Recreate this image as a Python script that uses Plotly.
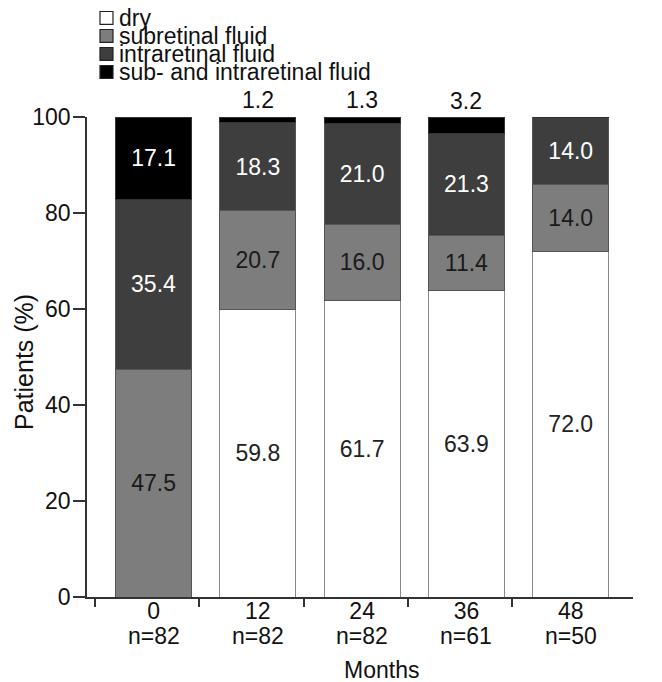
import plotly.graph_objects as go

months = ["0", "12", "24", "36", "48"]
n_patients = [82, 82, 82, 61, 50]
dry = [0.0, 59.8, 61.7, 63.9, 72.0]
subretinal = [47.5, 20.7, 16.0, 11.4, 14.0]
intraretinal = [35.4, 18.3, 21.0, 21.3, 14.0]
both = [17.1, 1.2, 1.3, 3.2, 0.0]

series = [
    ("dry", dry, "#ffffff", "#222222", "#8a8a8a"),
    ("subretinal fluid", subretinal, "#7d7d7d", "#1a1a1a", "#555555"),
    ("intraretinal fluid", intraretinal, "#3e3e3e", "#ffffff", "#555555"),
    ("sub- and intraretinal fluid", both, "#000000", "#ffffff", "#333333"),
]

FONT = "Arial, Liberation Sans, sans-serif"
FS = 23
xpos = list(range(len(months)))
XR = [-0.638, 4.597]

fig = go.Figure()
for name, vals, color, tcolor, lcolor in series:
    txt = [f"{v:.1f}" if v >= 5 else "" for v in vals]
    fig.add_trace(go.Bar(
        x=xpos, y=vals, name=name, width=0.73,
        marker=dict(color=color, line=dict(color=lcolor, width=1)),
        text=txt, textposition="inside", insidetextanchor="middle",
        textfont=dict(family=FONT, size=FS, color=tcolor),
        constraintext="none", showlegend=False, hoverinfo="skip",
    ))

# small top-segment values shown above the bars
for i, v in enumerate(both):
    if 0 < v < 5:
        top = dry[i] + subretinal[i] + intraretinal[i] + both[i]
        fig.add_annotation(x=i, y=top, text=f"{v:.1f}", showarrow=False,
                           yanchor="bottom", yshift=2,
                           font=dict(family=FONT, size=FS, color="#111111"))

# sample sizes under the month labels
for i, n in enumerate(n_patients):
    fig.add_annotation(x=i, xref="x", yref="paper", y=0, yshift=-39,
                       text=f"n={n}", showarrow=False, yanchor="middle",
                       font=dict(family=FONT, size=FS, color="#111111"))

# axis titles
fig.add_annotation(xref="paper", yref="paper", x=0.540, y=0, yshift=-73,
                   text="Months", showarrow=False, yanchor="middle",
                   font=dict(family=FONT, size=FS, color="#111111"))
fig.add_annotation(xref="paper", yref="paper", x=-0.115, y=0.49,
                   text="Patients (%)", textangle=-90, showarrow=False,
                   xanchor="center", yanchor="middle",
                   font=dict(family=FONT, size=25, color="#111111"))

# manual legend
row_y = [1.2063, 1.1688, 1.1313, 1.0938]
for (name, vals, color, tcolor, lcolor), yy in zip(series, row_y):
    fig.add_shape(type="rect", xref="paper", yref="paper",
                  x0=0.0238, x1=0.0476, y0=yy - 0.0135, y1=yy + 0.0135,
                  fillcolor=color, line=dict(color="#222222", width=1.2))
    fig.add_annotation(xref="paper", yref="paper", x=0.0542, y=yy, text=name,
                       showarrow=False, xanchor="left", yanchor="middle",
                       font=dict(family=FONT, size=FS, color="#111111"))

fig.update_layout(
    barmode="stack",
    width=662, height=682,
    margin=dict(l=79, r=37, t=109, b=93),
    paper_bgcolor="white", plot_bgcolor="white",
    font=dict(family=FONT, size=FS, color="#111111"),
    xaxis=dict(range=XR, tickvals=xpos, ticktext=months,
               ticks="", ticklabelstandoff=-7,
               showline=True, linecolor="#333333", linewidth=1.5,
               showgrid=False, zeroline=False,
               minor=dict(tickvals=[i - 0.56 for i in xpos], ticks="outside",
                          ticklen=8, tickwidth=1.5, tickcolor="#333333",
                          showgrid=False)),
    yaxis=dict(range=[0, 100], tickvals=[0, 20, 40, 60, 80, 100],
               ticks="outside", ticklen=12, tickwidth=1.5, tickcolor="#333333",
               ticklabelstandoff=-2,
               showline=True, linecolor="#333333", linewidth=1.5,
               showgrid=False, zeroline=False),
)

fig.write_html("out.html")
